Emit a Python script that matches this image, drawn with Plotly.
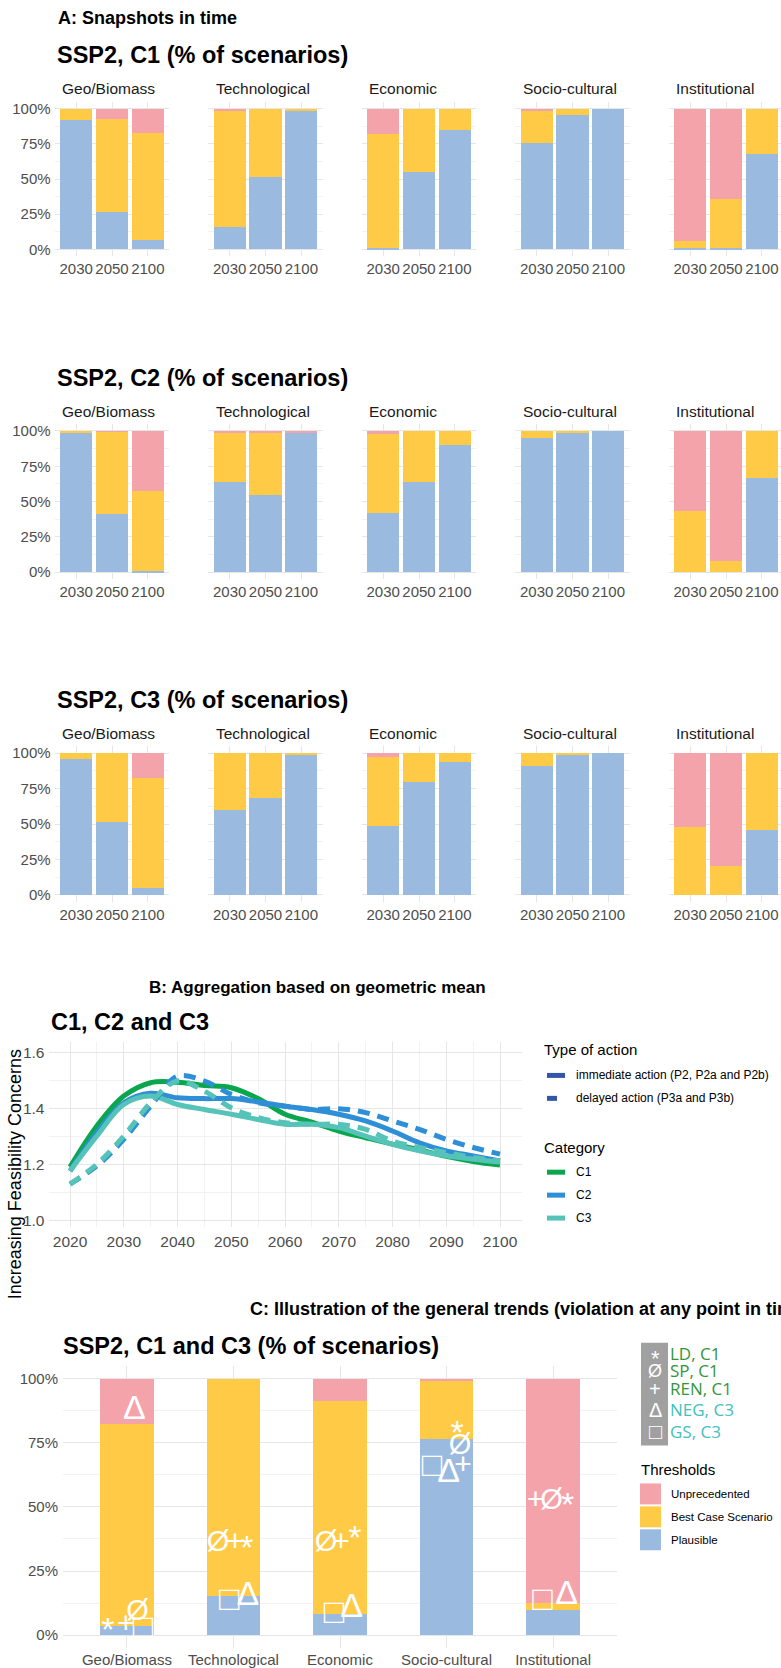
import plotly.graph_objects as go

W, H = 781, 1668
FONT = "Liberation Sans, Arial, sans-serif"
KEY_FONT = "Open Sans, Noto Sans, sans-serif"
TICK_COL = "#4D4D4D"
GRID = "#E6E6E6"
GRID_MINOR = "#F2F2F2"

COL_PLAUS = "#9BBAE0"
COL_BEST = "#FFCA45"
COL_UNPREC = "#F5A3AA"

# ---------------- data ----------------
pillars = ["Geo/Biomass", "Technological", "Economic", "Socio-cultural", "Institutional"]
snapshot_years = ["2030", "2050", "2100"]
pct_ticks = [0, 25, 50, 75, 100]
pct_labels = ["0%", "25%", "50%", "75%", "100%"]

# share of scenarios (%) per pillar, for 2030 / 2050 / 2100
c1_plausible = [[91.8, 26.6, 6.6], [16.0, 51.8, 98.8], [1.2, 54.8, 84.9], [75.5, 95.3, 100.0], [1.0, 1.0, 67.8]]
c1_best = [[8.2, 66.3, 76.5], [82.8, 48.2, 1.2], [80.7, 45.2, 15.1], [23.6, 4.7, 0.0], [4.9, 34.5, 32.2]]
c1_unprec = [[0.0, 7.1, 16.9], [1.2, 0.0, 0.0], [18.1, 0.0, 0.0], [0.9, 0.0, 0.0], [94.1, 64.5, 0.0]]

c2_plausible = [[98.8, 41.2, 0.9], [63.7, 54.8, 99.3], [42.2, 63.9, 90.2], [95.1, 99.3, 100.0], [0.0, 0.0, 66.5]]
c2_best = [[1.2, 58.3, 56.5], [35.6, 44.5, 0.0], [55.9, 36.1, 9.8], [4.9, 0.7, 0.0], [43.1, 8.0, 33.5]]
c2_unprec = [[0.0, 0.5, 42.6], [0.7, 0.7, 0.7], [1.9, 0.0, 0.0], [0.0, 0.0, 0.0], [56.9, 92.0, 0.0]]

c3_plausible = [[95.6, 51.7, 4.7], [59.9, 68.1, 98.4], [48.3, 79.5, 93.9], [91.1, 99.1, 100.0], [0.0, 0.0, 45.7]]
c3_best = [[4.4, 48.3, 78.1], [40.1, 31.9, 1.6], [48.9, 20.5, 6.1], [8.9, 0.9, 0.0], [48.0, 20.7, 54.3]]
c3_unprec = [[0.0, 0.0, 17.2], [0.0, 0.0, 0.0], [2.8, 0.0, 0.0], [0.0, 0.0, 0.0], [52.0, 79.3, 0.0]]

# aggregated feasibility concerns (geometric mean)
b_years = [2020, 2025, 2030, 2035, 2040, 2045, 2050, 2055, 2060, 2065, 2070, 2075, 2080, 2085, 2090, 2095, 2100]
c1_immediate = [1.19, 1.337, 1.444, 1.492, 1.494, 1.482, 1.474, 1.435, 1.379, 1.351, 1.319, 1.295, 1.272, 1.252, 1.228, 1.21, 1.197]
c2_immediate = [1.175, 1.313, 1.42, 1.454, 1.438, 1.435, 1.435, 1.423, 1.408, 1.396, 1.379, 1.355, 1.319, 1.277, 1.248, 1.23, 1.212]
c2_delayed = [1.129, 1.194, 1.289, 1.408, 1.515, 1.498, 1.45, 1.42, 1.408, 1.396, 1.399, 1.385, 1.355, 1.325, 1.289, 1.26, 1.236]
c3_immediate = [1.176, 1.301, 1.414, 1.444, 1.414, 1.396, 1.379, 1.36, 1.343, 1.343, 1.331, 1.301, 1.271, 1.248, 1.23, 1.218, 1.208]
c3_delayed = [1.129, 1.2, 1.301, 1.42, 1.498, 1.462, 1.402, 1.367, 1.349, 1.343, 1.343, 1.325, 1.283, 1.26, 1.242, 1.224, 1.212]
b_ticks = [2020, 2030, 2040, 2050, 2060, 2070, 2080, 2090, 2100]
b_yticks = [1.0, 1.2, 1.4, 1.6]

# violation at any point in time, C1 and C3
any_plausible = [3.6, 15.4, 8.3, 76.3, 9.8]
any_best = [78.5, 84.6, 83.1, 23.2, 2.9]
any_unprec = [17.9, 0.0, 8.6, 0.5, 87.3]

# highlighted pathways: value (%) per pillar
marker_glyphs = ["*", "Ø", "+", "Δ", "□"]
marker_names = ["LD, C1", "SP, C1", "REN, C1", "NEG, C3", "GS, C3"]
ld_c1 = [3.9, 35.8, 39.7, 80.5, 52.5]
sp_c1 = [8.6, 35.8, 35.8, 73.5, 52.1]
ren_c1 = [3.9, 35.8, 35.8, 65.8, 52.1]
neg_c3 = [87.5, 15.2, 10.5, 63.0, 15.6]
gs_c3 = [2.7, 13.6, 8.6, 65.8, 13.6]

# ---------------- styling / placement ----------------
COL_C1, COL_C2, COL_C3 = "#0AA64E", "#2E8FD7", "#55C3B8"
COL_ACTION = "#3556A8"
LBL_C1, LBL_C3 = "#35953A", "#43C0BE"
# horizontal dodge of each glyph inside its bar (category units)
glyph_dodge = {
    "*": [-0.18, 0.127, 0.14, 0.10, 0.136],
    "Ø": [0.10, -0.145, -0.13, 0.127, -0.014],
    "+": [-0.01, 0.014, 0.01, 0.155, -0.164],
    "Δ": [0.07, 0.136, 0.11, 0.02, 0.127],
    "□": [0.15, -0.04, -0.056, -0.136, -0.1],
}
glyph_size = {"*": 34, "Ø": 29, "+": 30, "Δ": 34, "□": 34}
glyph_nudge_px = {"*": 7, "Ø": 0, "+": 0, "Δ": 0, "□": 1}


def px(xp):
    return xp / W


def py(yp):
    return 1 - yp / H


fig = go.Figure()
layout = dict(
    width=W, height=H, margin=dict(l=0, r=0, t=0, b=0),
    paper_bgcolor="white", plot_bgcolor="rgba(0,0,0,0)",
    barmode="stack", showlegend=False,
    font=dict(family=FONT, color="#000000"),
)
annotations = []
shapes = []
n_axes = [0]


def new_axes(left, right, top, bottom, xrange, yrange, xcfg, ycfg):
    n_axes[0] += 1
    k = n_axes[0]
    sfx = "" if k == 1 else str(k)
    xa = dict(domain=[px(left), px(right)], range=xrange, anchor="y" + sfx,
              showline=False, zeroline=False, ticks="", gridcolor=GRID, gridwidth=1,
              tickfont=dict(family=FONT, size=15, color=TICK_COL), fixedrange=True)
    ya = dict(domain=[py(bottom), py(top)], range=yrange, anchor="x" + sfx,
              showline=False, zeroline=False, ticks="", gridcolor=GRID, gridwidth=1,
              tickfont=dict(family=FONT, size=15, color=TICK_COL), fixedrange=True)
    xa.update(xcfg)
    ya.update(ycfg)
    layout["xaxis" + sfx] = xa
    layout["yaxis" + sfx] = ya
    return "x" + sfx, "y" + sfx


def text(x, y, s, size, bold=False, color="#000000", family=FONT, anchor="left", angle=0, yshift=0):
    ann = dict(
        xref="paper", yref="paper", x=px(x), y=py(y), text=("<b>%s</b>" % s) if bold else s,
        showarrow=False, xanchor=anchor, yanchor="middle", textangle=angle, yshift=yshift,
        font=dict(family=family, size=size, color=color), borderpad=0)
    annotations.append(ann)


# ---------------- A: snapshots ----------------
bar_start = [60, 213.5, 367, 520.5, 674]
UNIT_A = 35.86
row_y100 = [107, 430, 753]
row_y0 = [248, 571.5, 895]
row_title_y = [53, 376.5, 700]
strip_y = [87, 410, 733]
row_names = ["C1", "C2", "C3"]
row_data = [
    (c1_plausible, c1_best, c1_unprec),
    (c2_plausible, c2_best, c2_unprec),
    (c3_plausible, c3_best, c3_unprec),
]

for r in range(3):
    text(56, row_title_y[r], "SSP2, %s (%% of scenarios)" % row_names[r], 23.5, bold=True)
    ppu = (row_y0[r] - row_y100[r]) / 100.0
    top = row_y100[r] - 5 * ppu
    bottom = row_y0[r] + 5 * ppu
    plaus, best, unprec = row_data[r]
    for j in range(5):
        left = bar_start[j] - 0.15 * UNIT_A
        right = min(left + 3.2 * UNIT_A, W)
        xr = [0.4, 0.4 + (right - left) / UNIT_A]
        xcfg = dict(tickmode="array", tickvals=[1, 2, 3], ticktext=snapshot_years, showgrid=True,
                    ticklabelstandoff=2)
        ycfg = dict(tickmode="array", tickvals=pct_ticks, ticktext=pct_labels, showgrid=True,
                    showticklabels=(j == 0), ticklabelstandoff=3,
                    minor=dict(tickmode="array", tickvals=[12.5, 37.5, 62.5, 87.5], showgrid=True,
                               gridcolor=GRID_MINOR, gridwidth=1))
        xa, ya = new_axes(left, right, top, bottom, xr, [-5, 105], xcfg, ycfg)
        for vals, col in ((plaus[j], COL_PLAUS), (best[j], COL_BEST), (unprec[j], COL_UNPREC)):
            fig.add_trace(go.Bar(x=[1, 2, 3], y=vals, width=0.9, marker=dict(color=col, line=dict(width=0)),
                                 xaxis=xa, yaxis=ya, hoverinfo="skip"))
        text(bar_start[j] + 1, strip_y[r], pillars[j], 15.5, color="#1A1A1A")

# ---------------- B: geometric mean ----------------
text(148, 988, "B: Aggregation based on geometric mean", 17, bold=True)
text(50, 1022, "C1, C2 and C3", 23.5, bold=True)
xcfg = dict(tickmode="array", tickvals=b_ticks, showgrid=True, ticklabelstandoff=3,
            tickfont=dict(family=FONT, size=15.5, color=TICK_COL),
            minor=dict(dtick=5, tick0=2020, showgrid=True, gridcolor=GRID_MINOR, gridwidth=1))
ycfg = dict(tickmode="array", tickvals=b_yticks, ticktext=["1.0", "1.2", "1.4", "1.6"], showgrid=True,
            ticklabelstandoff=3, tickfont=dict(family=FONT, size=15.5, color=TICK_COL),
            minor=dict(tickmode="array", tickvals=[1.1, 1.3, 1.5], showgrid=True,
                       gridcolor=GRID_MINOR, gridwidth=1))
xb, yb = new_axes(48.5, 521.5, 1043, 1228, [2016, 2104], [0.975, 1.636], xcfg, ycfg)
for vals, col, dash in ((c1_immediate, COL_C1, "solid"), (c2_immediate, COL_C2, "solid"),
                        (c3_immediate, COL_C3, "solid"), (c2_delayed, COL_C2, "12px,8px"),
                        (c3_delayed, COL_C3, "12px,8px")):
    fig.add_trace(go.Scatter(x=b_years, y=vals, mode="lines", xaxis=xb, yaxis=yb, hoverinfo="skip",
                             line=dict(color=col, width=5, dash=dash, shape="spline", smoothing=1.0)))
text(15, 1175, "Increasing Feasibility Concerns", 18, anchor="center", angle=-90)

# legend: type of action / category
text(543, 1050, "Type of action", 15)
text(543, 1148, "Category", 15)
legend_lines = [
    (1076, COL_ACTION, "solid", "immediate action (P2, P2a and P2b)"),
    (1099, COL_ACTION, "10px,10px", "delayed action (P3a and P3b)"),
    (1173, COL_C1, "solid", "C1"),
    (1196, COL_C2, "solid", "C2"),
    (1219, COL_C3, "solid", "C3"),
]
for yk, col, dash, lab in legend_lines:
    shapes.append(dict(type="line", xref="paper", yref="paper", x0=px(547), x1=px(565), y0=py(yk), y1=py(yk),
                       line=dict(color=col, width=5, dash=dash)))
    text(575, yk, lab, 12)

# ---------------- C: general trends ----------------
text(62, 1347, "SSP2, C1 and C3 (% of scenarios)", 23.5, bold=True)
xcfg = dict(tickmode="array", tickvals=[1, 2, 3, 4, 5], ticktext=pillars, showgrid=True, ticklabelstandoff=1,
            tickfont=dict(family=FONT, size=15, color=TICK_COL))
ycfg = dict(tickmode="array", tickvals=pct_ticks, ticktext=pct_labels, showgrid=True, ticklabelstandoff=4,
            tickfont=dict(family=FONT, size=15, color=TICK_COL),
            minor=dict(tickmode="array", tickvals=[12.5, 37.5, 62.5, 87.5], showgrid=True,
                       gridcolor=GRID_MINOR, gridwidth=1))
C_TOP, C_BOT = 1367, 1650
xc, yc = new_axes(63, 617, C_TOP, C_BOT, [0.4, 5.6], [-5, 105], xcfg, ycfg)
cats = [1, 2, 3, 4, 5]
for vals, col in ((any_plausible, COL_PLAUS), (any_best, COL_BEST), (any_unprec, COL_UNPREC)):
    fig.add_trace(go.Bar(x=cats, y=vals, width=0.5, marker=dict(color=col, line=dict(width=0)),
                         xaxis=xc, yaxis=yc, hoverinfo="skip"))

pct_per_px = 110.0 / (C_BOT - C_TOP)
for g, vals in zip(marker_glyphs, (ld_c1, sp_c1, ren_c1, neg_c3, gs_c3)):
    fig.add_trace(go.Scatter(
        x=[c + d for c, d in zip(cats, glyph_dodge[g])],
        y=[v - glyph_nudge_px[g] * pct_per_px for v in vals],
        mode="text", text=[g] * len(vals), textposition="middle center", cliponaxis=False,
        textfont=dict(family=FONT, size=glyph_size[g], color="white"),
        xaxis=xc, yaxis=yc, hoverinfo="skip"))

# key for highlighted pathways
shapes.append(dict(type="rect", xref="paper", yref="paper", x0=px(641), x1=px(668), y0=py(1447), y1=py(1344),
                   fillcolor="#A0A0A0", line=dict(width=0), layer="above"))
key_y = [1355, 1372, 1390, 1411, 1433]
key_cols = [LBL_C1, LBL_C1, LBL_C1, LBL_C3, LBL_C3]
key_size = {"*": 22, "Ø": 18, "+": 20, "Δ": 20, "□": 22}
key_shift = {"*": -5, "Ø": 0, "+": 0, "Δ": 0, "□": 0}
for g, name, yk, col in zip(marker_glyphs, marker_names, key_y, key_cols):
    text(655, yk, g, key_size[g], color="white", anchor="center", yshift=key_shift[g])
    text(669, yk, name, 17, color=col, family=KEY_FONT)

# thresholds legend
text(640, 1471, "Thresholds", 15)
for (y0k, y1k), col, lab in (((1485, 1506), COL_UNPREC, "Unprecedented"),
                              ((1508, 1529), COL_BEST, "Best Case Scenario"),
                              ((1531, 1552), COL_PLAUS, "Plausible")):
    shapes.append(dict(type="rect", xref="paper", yref="paper", x0=px(640), x1=px(661), y0=py(y1k), y1=py(y0k),
                       fillcolor=col, line=dict(width=0)))
    text(670, (y0k + y1k) / 2, lab, 11.5)

# ---------------- section headers on a full-page pixel canvas ----------------
xh, yh = new_axes(0, W, 0, H, [0, W], [H, 0],
                  dict(visible=False, showgrid=False), dict(visible=False, showgrid=False))
header_x = [58, 250]
header_y = [18, 1312]
header_txt = ["A: Snapshots in time",
              "C: Illustration of the general trends (violation at any point in time)"]
fig.add_trace(go.Scatter(x=header_x, y=header_y, mode="text", text=["<b>%s</b>" % t for t in header_txt],
                         textposition="middle right", cliponaxis=False, xaxis=xh, yaxis=yh, hoverinfo="skip",
                         textfont=dict(family=FONT, size=18, color="#000000")))

layout["annotations"] = annotations
layout["shapes"] = shapes
fig.update_layout(**layout)
fig.write_html("out.html", config={"displayModeBar": False})
